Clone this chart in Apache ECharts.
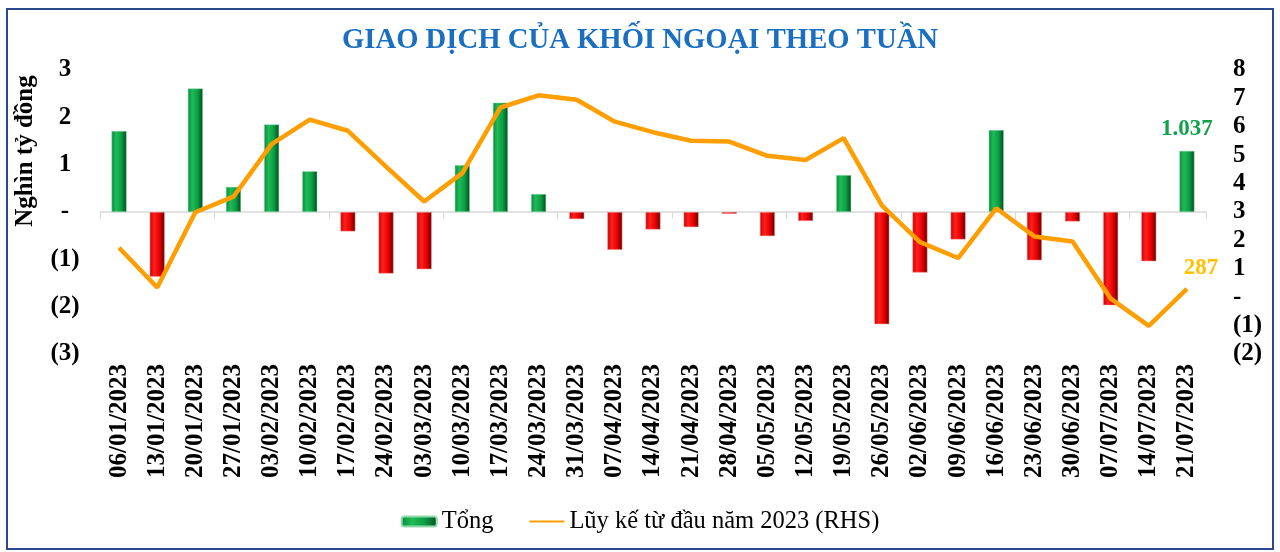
<!DOCTYPE html>
<html>
<head>
<meta charset="utf-8">
<script src="https://cdn.jsdelivr.net/npm/echarts@6/dist/echarts.min.js"></script>
<style>
html,body{margin:0;padding:0;background:#fff;}
#chart{width:1280px;height:552px;}
</style>
</head>
<body>
<div id="chart"></div>
<script>
// ---- Data ----
const categories = ['06/01/2023','13/01/2023','20/01/2023','27/01/2023','03/02/2023','10/02/2023','17/02/2023','24/02/2023','03/03/2023','10/03/2023','17/03/2023','24/03/2023','31/03/2023','07/04/2023','14/04/2023','21/04/2023','28/04/2023','05/05/2023','12/05/2023','19/05/2023','26/05/2023','02/06/2023','09/06/2023','16/06/2023','23/06/2023','30/06/2023','07/07/2023','14/07/2023','21/07/2023'];
// Weekly net (thousand billion VND), left axis
const weeklyNet = [1.71,-1.37,2.61,0.53,1.85,0.86,-0.41,-1.30,-1.21,0.99,2.31,0.38,-0.15,-0.80,-0.37,-0.32,-0.04,-0.51,-0.19,0.78,-2.37,-1.28,-0.58,1.73,-1.02,-0.20,-1.97,-1.04,1.29];
// Cumulative YTD (thousand billion VND), right axis
const cumulative = [1.74,0.34,2.99,3.54,5.39,6.25,5.86,4.60,3.37,4.37,6.68,7.11,6.95,6.18,5.81,5.51,5.48,4.98,4.83,5.60,3.23,1.94,1.38,3.13,2.14,1.96,-0.05,-1.01,0.29];
const lastBarLabel = '1.037';
const lastLineLabel = '287';
const seriesNames = ['Tổng', 'Lũy kế từ đầu năm 2023 (RHS)'];
const titleText = 'GIAO DỊCH CỦA KHỐI NGOẠI THEO TUẦN';
const yAxisTitle = 'Nghìn tỷ đồng';

const FONT = '"Liberation Serif", "Times New Roman", serif';
function fmtTick(v){
  if (v === 0) return '-';
  if (v < 0) return '(' + Math.abs(v) + ')';
  return String(v);
}
const greenGrad = new echarts.graphic.LinearGradient(0,0,1,0,[
  {offset:0,color:'#0A8A3C'},{offset:0.3,color:'#1EBB57'},{offset:0.65,color:'#0C9E44'},{offset:1,color:'#034A20'}]);
const redGrad = new echarts.graphic.LinearGradient(0,0,1,0,[
  {offset:0,color:'#C80000'},{offset:0.3,color:'#FF1F1F'},{offset:0.65,color:'#E80000'},{offset:1,color:'#640000'}]);

const barData = weeklyNet.map((v,i) => {
  const item = {value: v};
  if (v < 0) item.itemStyle = {color: redGrad, borderColor:'#F5A0A0'};
  if (i === weeklyNet.length - 1) {
    item.label = {show:true, position:'top', distance:10, formatter: lastBarLabel,
      color:'#12A04C', fontFamily:FONT, fontWeight:'bold', fontSize:23};
  }
  return item;
});
const lineData = cumulative.map((v,i) => {
  const item = {value: v};
  if (i === cumulative.length - 1) {
    item.label = {show:true, position:'top', offset:[14,-4], formatter: lastLineLabel,
      color:'#FFC000', fontFamily:FONT, fontWeight:'bold', fontSize:23};
  }
  return item;
});

const chart = echarts.init(document.getElementById('chart'));
chart.setOption({
  animation:false,
  backgroundColor:'#fff',
  title:{text:titleText, left:'center', top:21,
    textStyle:{color:'#1A6FC0', fontFamily:FONT, fontWeight:'bold', fontSize:28.7}},
  graphic:[
    {type:'rect', shape:{x:7,y:9,width:1266,height:540}, style:{fill:'none', stroke:'#2B4A8E', lineWidth:2}, silent:true},
    {type:'text', x:26, y:151, rotation:Math.PI/2,
      style:{text:yAxisTitle, font:'bold 25px ' + FONT, fill:'#000', align:'center', verticalAlign:'middle'}}
  ],
  legend:{top:504, left:'center', itemGap:35, itemWidth:35, itemHeight:10,
    textStyle:{fontFamily:FONT, fontSize:24.5, color:'#000'},
    data:[{name:seriesNames[0]},{name:seriesNames[1], itemStyle:{opacity:0}}]},
  grid:{left:100, right:74, top:70, bottom:198, containLabel:false},
  xAxis:[
    {type:'category', data:categories, position:'bottom',
      axisLine:{onZero:true, lineStyle:{color:'#D9D9D9', width:1.5}},
      axisTick:{show:true, length:7, lineStyle:{color:'#D9D9D9'}},
      axisLabel:{show:false}},
    {type:'category', data:categories, position:'bottom',
      axisLine:{show:false, onZero:false}, axisTick:{show:false},
      axisLabel:{show:true, rotate:90, margin:10, interval:0,
        color:'#000', fontFamily:FONT, fontWeight:'bold', fontSize:25}}
  ],
  yAxis:[
    {type:'value', min:-3, max:3, interval:1, position:'left',
      splitLine:{show:false}, axisLine:{show:false}, axisTick:{show:false},
      axisLabel:{formatter:fmtTick, align:'center', margin:35, color:'#000',
        fontFamily:FONT, fontWeight:'bold', fontSize:25}},
    {type:'value', min:-2, max:8, interval:1, position:'right',
      splitLine:{show:false}, axisLine:{show:false}, axisTick:{show:false},
      axisLabel:{formatter:fmtTick, align:'left', margin:27, color:'#000',
        fontFamily:FONT, fontWeight:'bold', fontSize:25}}
  ],
  series:[
    {name:seriesNames[0], type:'bar', xAxisIndex:0, yAxisIndex:0, barWidth:15,
      itemStyle:{color:greenGrad, borderColor:'#8FD9A8', borderWidth:0.5},
      data:barData},
    {name:seriesNames[1], type:'line', xAxisIndex:0, yAxisIndex:1,
      symbol:'circle', symbolSize:0.01, showSymbol:true,
      lineStyle:{color:'#FF9E00', width:4.5}, itemStyle:{color:'#FF9E00'},
      data:lineData, z:5}
  ]
});
</script>
</body>
</html>
